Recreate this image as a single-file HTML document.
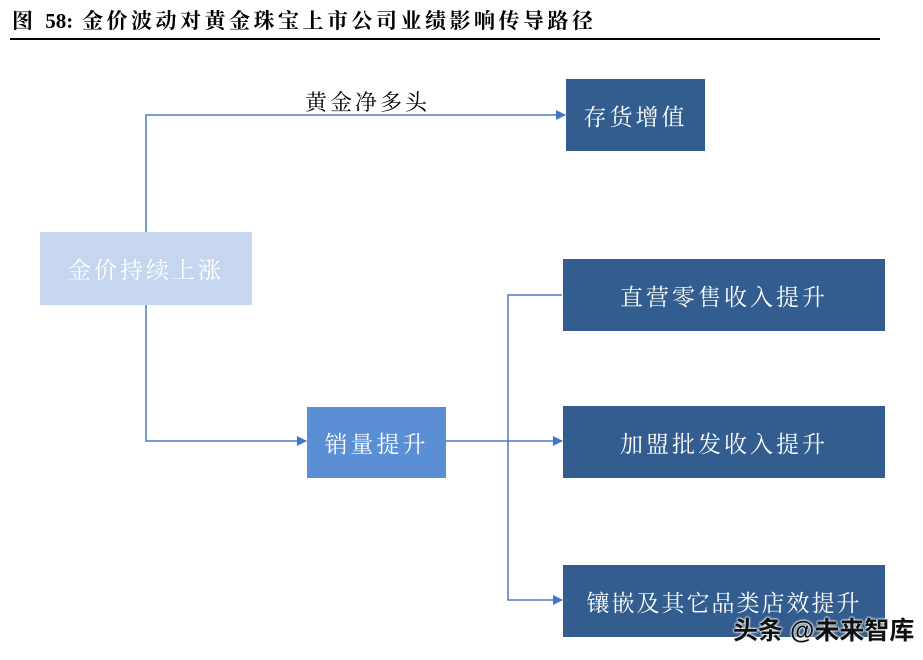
<!DOCTYPE html>
<html><head><meta charset="utf-8"><style>
body{margin:0;width:923px;height:660px;background:#fff;position:relative;overflow:hidden;font-family:"Liberation Serif","Noto Serif CJK SC",serif}
.t{position:absolute;left:12px;top:5px;font-size:21px;font-weight:bold;color:#000;letter-spacing:3.5px}
.hr{position:absolute;left:10px;top:38px;width:870px;height:2px;background:#000}
.b{position:absolute;display:flex;align-items:center;justify-content:center;color:#fff;font-size:23px;letter-spacing:3px;box-sizing:border-box}
.d{background:#335d8f}
.wm{position:absolute;left:733px;top:611px;font-family:"Liberation Sans","Noto Sans CJK SC",sans-serif;font-size:25px;font-weight:bold;color:#111;text-shadow:0 0 2px #fff,0 0 2px #fff,0 0 2px #fff}
</style></head><body>
<div class="t">图 <span style="letter-spacing:0">58:</span> 金价波动对黄金珠宝上市公司业绩影响传导路径</div>
<div class="hr"></div>
<svg style="position:absolute;left:0;top:0" width="923" height="660">
<defs><marker id="a" markerWidth="10" markerHeight="10" refX="9" refY="5" orient="auto" markerUnits="userSpaceOnUse"><path d="M0,0 L10,5 L0,10 z" fill="#3f76c8"/></marker></defs>
<g stroke="#4a7cc4" stroke-width="1.5" fill="none">
<polyline points="146,232 146,115 565,115" marker-end="url(#a)"/>
<polyline points="146,305 146,441 306,441" marker-end="url(#a)"/>
<line x1="446" y1="441" x2="562" y2="441" marker-end="url(#a)"/>
<polyline points="562,295 508,295 508,600 562,600" marker-end="url(#a)"/>
</g>
</svg>
<div style="position:absolute;left:305px;top:86px;font-size:22px;letter-spacing:3px">黄金净多头</div>
<div class="b d" style="left:566px;top:79px;width:139px;height:72px">存货增值</div>
<div class="b" style="left:40px;top:232px;width:212px;height:73px;background:#c6d6ee">金价持续上涨</div>
<div class="b" style="left:307px;top:407px;width:139px;height:71px;background:#5a8fd6">销量提升</div>
<div class="b d" style="left:563px;top:259px;width:322px;height:72px">直营零售收入提升</div>
<div class="b d" style="left:563px;top:406px;width:322px;height:72px">加盟批发收入提升</div>
<div class="b d" style="left:563px;top:565px;width:322px;height:72px;letter-spacing:2px">镶嵌及其它品类店效提升</div>
<div class="wm">头条 @未来智库</div>
</body></html>
